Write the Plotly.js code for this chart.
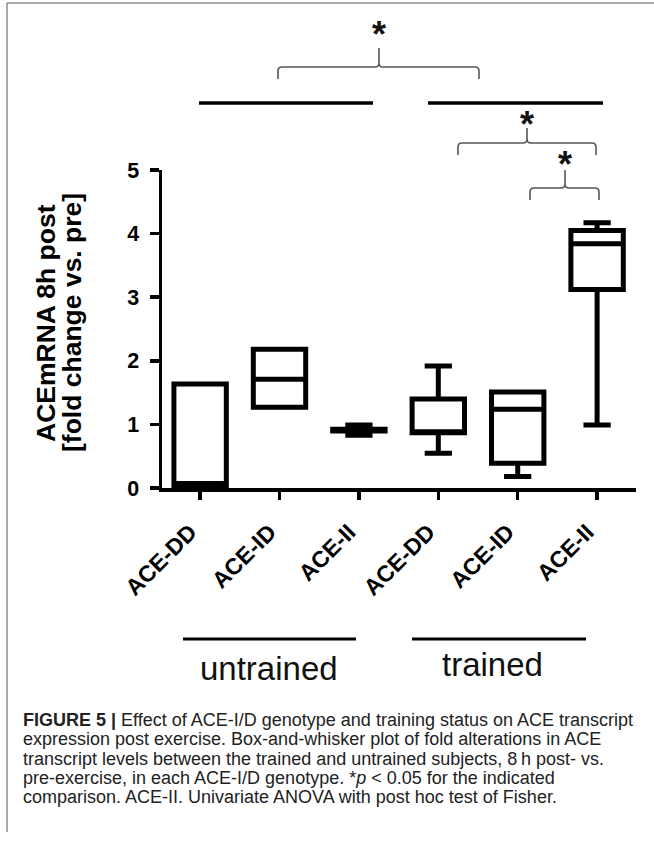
<!DOCTYPE html>
<html><head><meta charset="utf-8">
<script src="https://cdn.plot.ly/plotly-3.0.1.min.js"></script>
<style>html,body{margin:0;padding:0;background:#fff;} #chart{width:654px;height:843px;}</style>
</head><body><div id="chart"></div>
<script>
// ---------------- data ----------------
const genotypes = ['ACE-DD', 'ACE-ID', 'ACE-II', 'ACE-DD', 'ACE-ID', 'ACE-II'];
const groupNames = ['untrained', 'trained'];
const lowerFence = [0.02, 1.27, 0.83, 0.545, 0.18, 0.99];
const q1Values   = [0.02, 1.27, 0.895, 0.87, 0.39, 3.12];
const medians    = [0.07, 1.71, 0.91, 0.88, 1.24, 3.84];
const q3Values   = [1.635, 2.18, 0.925, 1.40, 1.51, 4.05];
const upperFence = [1.635, 2.18, 0.99, 1.92, 1.51, 4.17];
const yTicks = [0, 1, 2, 3, 4, 5];
const yTitleLines = ['ACEmRNA 8h post', '[fold change vs. pre]'];
const significanceMark = '*';
const captionLines = [
  '<b>FIGURE 5 |</b> Effect of ACE-I/D genotype and training status on ACE transcript',
  'expression post exercise. Box-and-whisker plot of fold alterations in ACE',
  'transcript levels between the trained and untrained subjects, 8\u2009h post- vs.',
  'pre-exercise, in each ACE-I/D genotype. *<i>p</i> &lt; 0.05 for the indicated',
  'comparison. ACE-II. Univariate ANOVA with post hoc test of Fisher.'
];

// ---------------- geometry (pixels) ----------------
const W = 654, H = 843;
const L = 162, R = 636, T = 170, B = 488;
const px = X => (X - L) / (R - L);
const py = Y => (B - Y) / (B - T);
const FONT = 'Liberation Sans, Arial, sans-serif';

const shapes = [];
const annotations = [];

// frame
shapes.push({type: 'line', xref: 'paper', yref: 'paper', x0: px(7), x1: px(7), y0: py(3), y1: py(832), line: {color: '#8c8c8c', width: 1.5}});
shapes.push({type: 'line', xref: 'paper', yref: 'paper', x0: px(7), x1: px(660), y0: py(3), y1: py(3), line: {color: '#8c8c8c', width: 1.5}});

// group bars (top and bottom)
const topBars = [[199, 373], [428, 603]];
const botBars = [[183, 356], [412, 586]];
topBars.forEach(b => shapes.push({type: 'line', xref: 'paper', yref: 'paper', x0: px(b[0]), x1: px(b[1]), y0: py(103), y1: py(103), line: {color: '#000', width: 3.4}}));
botBars.forEach(b => shapes.push({type: 'line', xref: 'paper', yref: 'paper', x0: px(b[0]), x1: px(b[1]), y0: py(639), y1: py(639), line: {color: '#000', width: 3.2}}));

// significance brackets
function bracket(xl, xr, xc, yh, yleg, ystem, r) {
  const p = (X, Y) => px(X) + ',' + py(Y);
  return 'M ' + p(xl, yleg) + ' L ' + p(xl, yh + r) + ' Q ' + p(xl, yh) + ' ' + p(xl + r, yh) +
    ' L ' + p(xc - r, yh) + ' Q ' + p(xc, yh) + ' ' + p(xc, yh - r) + ' L ' + p(xc, ystem) +
    ' M ' + p(xc, yh - r) + ' Q ' + p(xc, yh) + ' ' + p(xc + r, yh) +
    ' L ' + p(xr - r, yh) + ' Q ' + p(xr, yh) + ' ' + p(xr, yh + r) + ' L ' + p(xr, yleg);
}
const brackets = [
  {xl: 278, xr: 479, xc: 379, yh: 67, yleg: 79, ystem: 48, star: 27},
  {xl: 458, xr: 596, xc: 527, yh: 143, yleg: 155, ystem: 128, star: 117},
  {xl: 530, xr: 599, xc: 565, yh: 188, yleg: 200, ystem: 170, star: 157}
];
const starSize = 36;
brackets.forEach(b => {
  shapes.push({type: 'path', xref: 'paper', yref: 'paper', path: bracket(b.xl, b.xr, b.xc, b.yh, b.yleg, b.ystem, 4), line: {color: '#555', width: 1.6}});
  annotations.push({xref: 'paper', yref: 'paper', x: px(b.xc), y: py(b.star + 0.2 * starSize), xanchor: 'center', yanchor: 'middle',
    text: '<b>' + significanceMark + '</b>', showarrow: false, font: {family: FONT, size: starSize, color: '#111'}});
});

// y title (two tight lines)
const yTitleX = [46, 72];
yTitleLines.forEach((t, i) => annotations.push({xref: 'paper', yref: 'paper', x: px(yTitleX[i]), y: py(323), xanchor: 'center', yanchor: 'middle',
  textangle: -90, text: '<b>' + t + '</b>', showarrow: false, font: {family: FONT, size: 26.5, color: '#000'}}));

// group labels
const groupCenters = [268.5, 492.5];
const groupBaselines = [680, 676];
const groupSize = 33;
groupNames.forEach((g, i) => annotations.push({xref: 'paper', yref: 'paper', x: px(groupCenters[i]), y: py(groupBaselines[i] - 0.3465 * groupSize),
  xanchor: 'center', yanchor: 'middle', text: g, showarrow: false, font: {family: FONT, size: groupSize, color: '#111'}}));

// caption
const capBaselines = [726, 745.5, 765, 784, 803.5];
const capSize = 18;
captionLines.forEach((c, i) => annotations.push({xref: 'paper', yref: 'paper', x: px(21), y: py(capBaselines[i] - 0.3465 * capSize),
  xanchor: 'left', yanchor: 'middle', text: c, showarrow: false, font: {family: FONT, size: capSize, color: '#222'}}));

// ---------------- trace ----------------
const boxTrace = {
  type: 'box',
  x: genotypes.map((_, i) => i),
  q1: q1Values, median: medians, q3: q3Values,
  lowerfence: lowerFence, upperfence: upperFence,
  boxpoints: false, width: 0.66, whiskerwidth: 0.52,
  line: {color: '#000', width: 5}, fillcolor: '#fff',
  hoverinfo: 'skip', showlegend: false
};

const layout = {
  width: W, height: H,
  margin: {l: L, r: W - R, t: T, b: H - B, pad: 0},
  paper_bgcolor: '#fff', plot_bgcolor: '#fff',
  showlegend: false,
  font: {family: FONT, color: '#000'},
  xaxis: {
    range: [-0.48, 5.49], tickvals: genotypes.map((_, i) => i), ticktext: genotypes.map(g => '<b>' + g + '</b>'),
    tickangle: -45, tickfont: {family: FONT, size: 23, color: '#000'},
    ticks: 'outside', ticklen: 8, tickwidth: 3.5, tickcolor: '#000',
    showline: true, linewidth: 3.5, linecolor: '#000', showgrid: false, zeroline: false,
    ticklabelstandoff: 10, ticklabelshift: -10, fixedrange: true
  },
  yaxis: {
    range: [0, 5], tickvals: yTicks, ticktext: yTicks.map(v => '<b>' + v + '</b>'),
    tickfont: {family: FONT, size: 21.5, color: '#000'},
    ticks: 'outside', ticklen: 9, tickwidth: 3.5, tickcolor: '#000',
    showline: true, linewidth: 3.5, linecolor: '#000', showgrid: false, zeroline: false,
    ticklabelstandoff: 6, fixedrange: true
  },
  shapes: shapes,
  annotations: annotations
};

Plotly.newPlot('chart', [boxTrace], layout, {displayModeBar: false, staticPlot: true});
</script>
</body></html>
